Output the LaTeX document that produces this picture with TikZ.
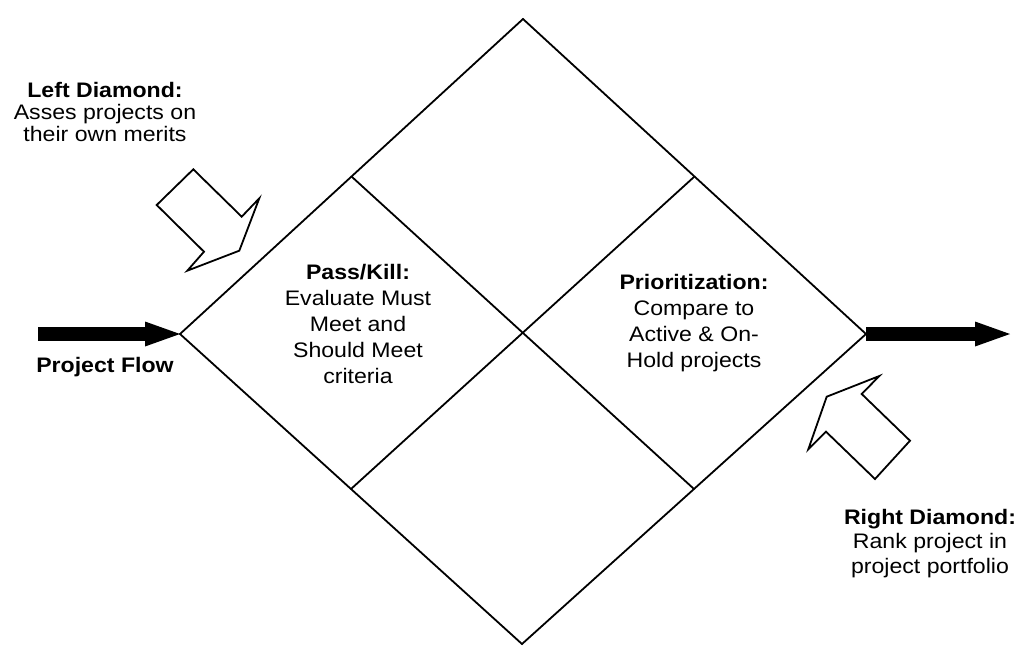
\documentclass[tikz,border=0pt]{standalone}
\usepackage{fontspec}
\setmainfont{Liberation Sans}[FakeStretch=1.1]
\usetikzlibrary{arrows.meta}

\tikzset{
  note/.style={align=center, inner sep=0pt, anchor=north, font=\fontsize{21}{22}\selectfont},
  celltext/.style={note, font=\fontsize{21}{26}\selectfont},
  edge/.style={line width=1.8pt, line join=miter},
  flowarrow/.style={line width=14pt, -{Triangle[length=35pt,width=25pt,line width=0pt]}},
  hollow/.style={line width=1.8pt, fill=white, line join=miter}
}

\begin{document}
\begin{tikzpicture}[x=1pt,y=-1pt]
  \useasboundingbox (0,0) rectangle (1020,646);
  % the big diamond and its four cells
  \coordinate (top) at (523,19);
  \coordinate (rgt) at (866,334);
  \coordinate (bot) at (522,644);
  \coordinate (lft) at (180,334);
  \draw[edge] (top) -- (rgt) -- (bot) -- (lft) -- cycle;
  \draw[edge] (351.5,176.5) -- (694,489);
  \draw[edge] (694.5,176.5) -- (351,489);
  % project flow in and out
  \coordinate (flowin) at (38,334);
  \coordinate (flowout) at (1010,334);
  \draw[flowarrow] (flowin) -- (lft);
  \draw[flowarrow] (rgt) -- (flowout);
  % hollow arrows onto the two diamonds
  \draw[hollow] (193.3,169.3) -- (156.7,205) -- (204,251.7) -- (187.3,270.7)
    -- (239.3,250.7) -- (259.3,198.3) -- (241.7,216.7) -- cycle;
  \draw[hollow] (808.3,449.3) -- (826.7,396.7) -- (879.3,376) -- (861.7,394)
    -- (910,440.7) -- (875,479) -- (826,431.7) -- cycle;
  % texts
  \node[note] (lftnote) at (105,82) {\textbf{Left Diamond:}\\Asses projects on\\their own merits};
  \node[note] (flowlabel) at (105,357) {\textbf{Project Flow}};
  \node[celltext] (passkill) at (358,264) {\textbf{Pass/Kill:}\\Evaluate Must\\Meet and\\Should Meet\\criteria};
  \node[celltext] (prio) at (694,274) {\textbf{Prioritization:}\\Compare to\\Active \& On-\\Hold projects};
  \node[note, font=\fontsize{21}{24.5}\selectfont] (rgtnote) at (930,509) {\textbf{Right Diamond:}\\Rank project in\\project portfolio};
\end{tikzpicture}
\end{document}
